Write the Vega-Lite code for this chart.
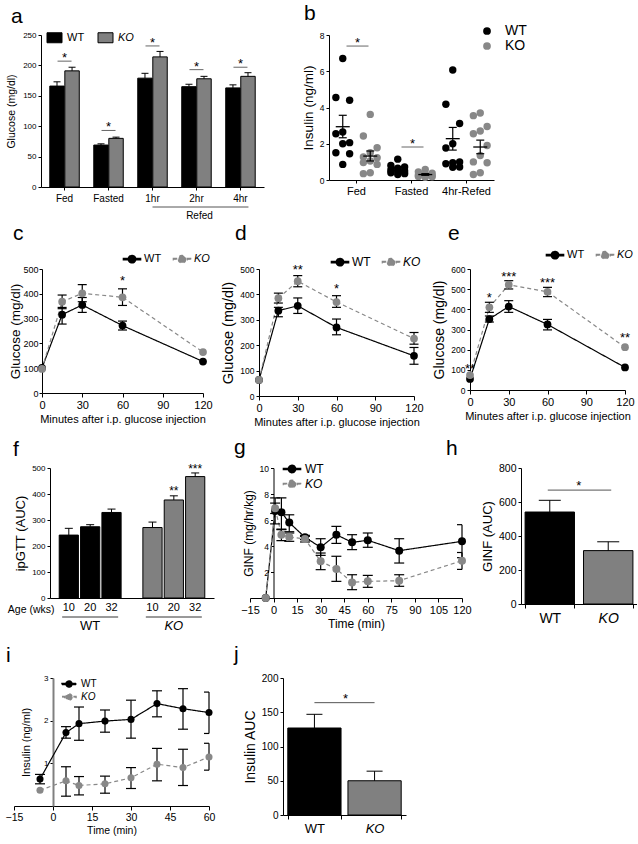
{
"$schema":"https://vega.github.io/schema/vega-lite/v6.json",
"padding":{"left":5,"top":3,"right":0,"bottom":0},
"config":{
 "font":"Liberation Sans",
 "view":{"stroke":null},
 "axis":{"grid":false,"domainColor":"black","tickColor":"black","labelColor":"black","titleColor":"black","titleFontWeight":"normal","tickSize":4,"labelFontSize":9,"titleFontSize":12,"titlePadding":4,"labelPadding":2,"labelFlush":false,"labelOverlap":false},
 "axisX":{"labelAngle":0},
 "title":{"fontSize":21,"fontWeight":"normal","anchor":"start","frame":"group","color":"black"},
 "legend":{"padding":0,"labelColor":"black"}
},
"bounds":"full",
"spacing":2,
"resolve":{"scale":{"color":"independent","xOffset":"independent","strokeDash":"independent"},"legend":{"color":"independent","strokeDash":"independent"}},
"vconcat":[
{"bounds":"flush","spacing":0,
 "resolve":{"scale":{"color":"independent","xOffset":"independent","strokeDash":"independent"},"legend":{"color":"independent","strokeDash":"independent"}},
 "hconcat":[
 {"width":27,"height":1,"data":{"values":[]},"mark":"point"},
 {"bounds":"flush","spacing":65,
  "resolve":{"scale":{"color":"independent","xOffset":"independent","strokeDash":"independent"},"legend":{"color":"independent","strokeDash":"independent"}},
  "hconcat":[
 {"width":223,"height":152,
  "title":{"text":"a","dx":-30,"offset":4},
  "layer":[
   {"data":{"values":[
     {"cond":"Fed","group":"WT","mean":166,"hi":173},{"cond":"Fed","group":"KO","mean":191,"hi":197},
     {"cond":"Fasted","group":"WT","mean":69,"hi":71},{"cond":"Fasted","group":"KO","mean":80,"hi":82},
     {"cond":"1hr","group":"WT","mean":179,"hi":187},{"cond":"1hr","group":"KO","mean":214,"hi":223},
     {"cond":"2hr","group":"WT","mean":165,"hi":169},{"cond":"2hr","group":"KO","mean":178,"hi":182},
     {"cond":"4hr","group":"WT","mean":163,"hi":168},{"cond":"4hr","group":"KO","mean":182,"hi":188}]},
    "layer":[
     {"mark":{"type":"bar","stroke":"black","strokeWidth":1},
      "encoding":{
       "x":{"field":"cond","type":"nominal","scale":{"type":"band","domain":["Fed","Fasted","1hr","2hr","4hr"],"paddingInner":0.33,"paddingOuter":0.2},"axis":{"title":null,"labelFontSize":10,"tickSize":3,"labelPadding":3,"labelOverlap":false}},
       "xOffset":{"field":"group","type":"nominal","scale":{"type":"band","domain":["WT","KO"],"paddingInner":0.04}},
       "y":{"field":"mean","type":"quantitative","scale":{"domain":[0,250],"nice":false},"axis":{"title":"Glucose (mg/dl)","values":[0,50,100,150,200,250],"format":"d","tickCount":20,"labelOverlap":false,"labelFontSize":8,"titleFontSize":10.5,"tickSize":3,"titlePadding":6}},
       "color":{"field":"group","type":"nominal","scale":{"domain":["WT","KO"],"range":["black","#808080"]},
        "legend":{"title":null,"orient":"none","legendX":8,"legendY":-3,"direction":"horizontal","columns":2,"symbolType":"M-1.5,-1H1.5V1H-1.5Z","symbolSize":100,"symbolStrokeColor":"black","symbolStrokeWidth":1,"labelFontSize":11,"labelOffset":7,"columnPadding":11,
         "encode":{"labels":{"update":{"fontStyle":{"signal":"datum.label === 'KO' ? 'italic' : 'normal'"}}}}}}}},
     {"mark":{"type":"rule","color":"black","strokeWidth":1},
      "encoding":{"x":{"field":"cond","type":"nominal"},"xOffset":{"field":"group","type":"nominal","scale":{"type":"band","domain":["WT","KO"],"paddingInner":0.04}},"y":{"field":"mean","type":"quantitative"},"y2":{"field":"hi"}}},
     {"mark":{"type":"tick","color":"black","thickness":1,"size":7,"orient":"horizontal","opacity":1},
      "encoding":{"x":{"field":"cond","type":"nominal"},"xOffset":{"field":"group","type":"nominal","scale":{"type":"band","domain":["WT","KO"],"paddingInner":0.04}},"y":{"field":"hi","type":"quantitative"}}}
    ]},
   {"data":{"values":[{"cond":"Fed","y":207,"s":"*"},{"cond":"Fasted","y":93,"s":"*"},{"cond":"1hr","y":232,"s":"*"},{"cond":"2hr","y":193,"s":"*"},{"cond":"4hr","y":197,"s":"*"}]},
    "layer":[
     {"mark":{"type":"rule","color":"#666666","strokeWidth":1,"xOffset":-7,"x2Offset":7},"encoding":{"x":{"field":"cond","type":"nominal"},"x2":{"field":"cond"},"y":{"field":"y","type":"quantitative"}}},
     {"mark":{"type":"text","fontSize":13,"baseline":"middle","dy":-3},"encoding":{"x":{"field":"cond","type":"nominal"},"y":{"field":"y","type":"quantitative"},"text":{"field":"s"}}}
    ]},
   {"data":{"values":[{"cond":"1hr","cond2":"4hr"}]},
    "mark":{"type":"rule","color":"#555555","strokeWidth":1,"yOffset":20,"x2Offset":8},
    "encoding":{"x":{"field":"cond","type":"nominal"},"x2":{"field":"cond2"},"y":{"datum":0}}},
   {"data":{"values":[{"cond":"2hr","s":"Refed"}]},
    "mark":{"type":"text","fontSize":10,"baseline":"top","dy":24,"dx":3},
    "encoding":{"x":{"field":"cond","type":"nominal"},"y":{"datum":0},"text":{"field":"s"}}}
  ]},
 {"width":165,"height":145,
  "title":{"text":"b","dx":-25,"offset":0},
  "layer":[
   {"data":{"values":[
     {"cond":"Fed","group":"WT","v":6.7},{"cond":"Fed","group":"WT","v":4.55},{"cond":"Fed","group":"WT","v":4.4},{"cond":"Fed","group":"WT","v":2.65},{"cond":"Fed","group":"WT","v":2.55},{"cond":"Fed","group":"WT","v":2.06},{"cond":"Fed","group":"WT","v":2.0},{"cond":"Fed","group":"WT","v":1.5},{"cond":"Fed","group":"WT","v":1.45},{"cond":"Fed","group":"WT","v":0.86},
     {"cond":"Fed","group":"KO","v":3.62},{"cond":"Fed","group":"KO","v":2.43},{"cond":"Fed","group":"KO","v":1.78},{"cond":"Fed","group":"KO","v":1.5},{"cond":"Fed","group":"KO","v":1.27},{"cond":"Fed","group":"KO","v":1.23},{"cond":"Fed","group":"KO","v":1.05},{"cond":"Fed","group":"KO","v":0.96},{"cond":"Fed","group":"KO","v":0.86},{"cond":"Fed","group":"KO","v":0.4},{"cond":"Fed","group":"KO","v":0.35},
     {"cond":"Fasted","group":"WT","v":1.15},{"cond":"Fasted","group":"WT","v":0.8},{"cond":"Fasted","group":"WT","v":0.72},{"cond":"Fasted","group":"WT","v":0.65},{"cond":"Fasted","group":"WT","v":0.55},{"cond":"Fasted","group":"WT","v":0.5},{"cond":"Fasted","group":"WT","v":0.45},{"cond":"Fasted","group":"WT","v":0.4},{"cond":"Fasted","group":"WT","v":0.35},{"cond":"Fasted","group":"WT","v":0.3},
     {"cond":"Fasted","group":"KO","v":0.58},{"cond":"Fasted","group":"KO","v":0.45},{"cond":"Fasted","group":"KO","v":0.38},{"cond":"Fasted","group":"KO","v":0.32},{"cond":"Fasted","group":"KO","v":0.28},{"cond":"Fasted","group":"KO","v":0.25},{"cond":"Fasted","group":"KO","v":0.22},{"cond":"Fasted","group":"KO","v":0.2},{"cond":"Fasted","group":"KO","v":0.18},{"cond":"Fasted","group":"KO","v":0.15},
     {"cond":"4hr-Refed","group":"WT","v":6.07},{"cond":"4hr-Refed","group":"WT","v":4.18},{"cond":"4hr-Refed","group":"WT","v":3.12},{"cond":"4hr-Refed","group":"WT","v":2.0},{"cond":"4hr-Refed","group":"WT","v":1.77},{"cond":"4hr-Refed","group":"WT","v":1.0},{"cond":"4hr-Refed","group":"WT","v":0.95},{"cond":"4hr-Refed","group":"WT","v":0.9},{"cond":"4hr-Refed","group":"WT","v":0.72},{"cond":"4hr-Refed","group":"WT","v":0.7},
     {"cond":"4hr-Refed","group":"KO","v":3.7},{"cond":"4hr-Refed","group":"KO","v":3.55},{"cond":"4hr-Refed","group":"KO","v":2.95},{"cond":"4hr-Refed","group":"KO","v":2.7},{"cond":"4hr-Refed","group":"KO","v":2.55},{"cond":"4hr-Refed","group":"KO","v":1.9},{"cond":"4hr-Refed","group":"KO","v":1.35},{"cond":"4hr-Refed","group":"KO","v":1.0},{"cond":"4hr-Refed","group":"KO","v":0.95},{"cond":"4hr-Refed","group":"KO","v":0.4},{"cond":"4hr-Refed","group":"KO","v":0.3}]},
    "transform":[{"window":[{"op":"row_number","as":"rn"}],"groupby":["cond","group"],"sort":[{"field":"v","order":"descending"}]},{"calculate":"datum.group + (datum.rn % 3)","as":"sub"}],
    "mark":{"type":"point","filled":true,"size":55,"opacity":1},
    "encoding":{
     "x":{"field":"cond","type":"nominal","scale":{"type":"band","domain":["Fed","Fasted","4hr-Refed"],"paddingInner":0,"paddingOuter":0},"axis":{"title":null,"labelFontSize":11,"tickSize":3,"labelPadding":2,"labelOverlap":false}},
     "xOffset":{"field":"sub","type":"nominal","scale":{"type":"point","domain":["WT2","WT1","WT0","_","KO2","KO1","KO0"],"padding":2.5}},
     "y":{"field":"v","type":"quantitative","scale":{"domain":[0,8],"nice":false},"axis":{"title":"Insulin (ng/ml)","values":[0,2,4,6,8],"format":"d","tickCount":20,"labelOverlap":false,"labelFontSize":8.5,"titleFontSize":13.5,"tickSize":3,"titlePadding":4}},
     "color":{"field":"group","type":"nominal","scale":{"domain":["WT","KO"],"range":["black","#888888"]},
      "legend":{"title":null,"orient":"none","legendX":151,"legendY":-11,"symbolType":"circle","symbolSize":60,"symbolStrokeWidth":0,"labelFontSize":14,"labelOffset":11,"rowPadding":1,
       "encode":{"labels":{"update":{"fontStyle":{"signal":"datum.label === 'KO' ? 'italic' : 'normal'"}}}}}}}},
   {"data":{"values":[
     {"cond":"Fed","group":"WT","m":2.94,"lo":2.33,"hi":3.57},{"cond":"Fed","group":"KO","m":1.32,"lo":1.05,"hi":1.6},
     {"cond":"Fasted","group":"WT","m":0.6,"lo":0.52,"hi":0.7},{"cond":"Fasted","group":"KO","m":0.3,"lo":0.26,"hi":0.35},
     {"cond":"4hr-Refed","group":"WT","m":2.28,"lo":1.65,"hi":2.9},{"cond":"4hr-Refed","group":"KO","m":1.82,"lo":1.45,"hi":2.2}]},
    "transform":[{"calculate":"datum.group + '1'","as":"sub"}],
    "layer":[
     {"mark":{"type":"tick","color":"black","thickness":1.3,"size":14,"orient":"horizontal","opacity":1},"encoding":{"x":{"field":"cond","type":"nominal"},"xOffset":{"field":"sub","type":"nominal","scale":{"type":"point","domain":["WT2","WT1","WT0","_","KO2","KO1","KO0"],"padding":2.5}},"y":{"field":"m","type":"quantitative"}}},
     {"mark":{"type":"rule","color":"black","strokeWidth":1.2},"encoding":{"x":{"field":"cond","type":"nominal"},"xOffset":{"field":"sub","type":"nominal","scale":{"type":"point","domain":["WT2","WT1","WT0","_","KO2","KO1","KO0"],"padding":2.5}},"y":{"field":"lo","type":"quantitative"},"y2":{"field":"hi"}}},
     {"mark":{"type":"tick","color":"black","thickness":1.2,"size":8,"orient":"horizontal","opacity":1},"encoding":{"x":{"field":"cond","type":"nominal"},"xOffset":{"field":"sub","type":"nominal","scale":{"type":"point","domain":["WT2","WT1","WT0","_","KO2","KO1","KO0"],"padding":2.5}},"y":{"field":"lo","type":"quantitative"}}},
     {"mark":{"type":"tick","color":"black","thickness":1.2,"size":8,"orient":"horizontal","opacity":1},"encoding":{"x":{"field":"cond","type":"nominal"},"xOffset":{"field":"sub","type":"nominal","scale":{"type":"point","domain":["WT2","WT1","WT0","_","KO2","KO1","KO0"],"padding":2.5}},"y":{"field":"hi","type":"quantitative"}}}
    ]},
   {"data":{"values":[{"cond":"Fed","y":7.39,"s":"*"},{"cond":"Fasted","y":1.82,"s":"*"}]},
    "layer":[
     {"mark":{"type":"rule","color":"#666666","strokeWidth":1,"xOffset":-10,"x2Offset":12},"encoding":{"x":{"field":"cond","type":"nominal"},"x2":{"field":"cond"},"y":{"field":"y","type":"quantitative"}}},
     {"mark":{"type":"text","fontSize":13,"baseline":"middle","dy":-3,"dx":1},"encoding":{"x":{"field":"cond","type":"nominal"},"y":{"field":"y","type":"quantitative"},"text":{"field":"s"}}}
    ]}
  ]}
 ]}
]},
{"bounds":"full","spacing":10,
 "resolve":{"scale":{"color":"independent","xOffset":"independent","strokeDash":"independent"},"legend":{"color":"independent","strokeDash":"independent"}},
 "vconcat":[
{"bounds":"flush","spacing":0,
 "resolve":{"scale":{"color":"independent","xOffset":"independent","strokeDash":"independent"},"legend":{"color":"independent","strokeDash":"independent"}},
 "hconcat":[
 {"width":28,"height":1,"data":{"values":[]},"mark":"point"},
 {"bounds":"flush","spacing":56,
  "resolve":{"scale":{"color":"independent","xOffset":"independent","strokeDash":"independent"},"legend":{"color":"independent","strokeDash":"independent"}},
  "hconcat":[
 {"width":161,"height":124,
  "title":{"text":"c","dx":-29,"offset":8},
  "data":{"values":[
   {"t":0,"g":"WT","m":101,"lo":null,"hi":null},{"t":15,"g":"WT","m":316,"lo":278,"hi":345},{"t":30,"g":"WT","m":355,"lo":325,"hi":385},{"t":60,"g":"WT","m":272,"lo":254,"hi":290},{"t":120,"g":"WT","m":127,"lo":null,"hi":null},
   {"t":0,"g":"KO","m":97,"lo":null,"hi":null},{"t":15,"g":"KO","m":368,"lo":340,"hi":395},{"t":30,"g":"KO","m":402,"lo":368,"hi":437},{"t":60,"g":"KO","m":386,"lo":353,"hi":420},{"t":120,"g":"KO","m":165,"lo":null,"hi":null}]},
  "encoding":{"x":{"field":"t","type":"quantitative","scale":{"domain":[0,120],"nice":false},"axis":{"values":[0,30,60,90,120],"format":"d","tickCount":20,"labelOverlap":false,"title":"Minutes after i.p. glucose injection","labelFontSize":11,"titleFontSize":11,"titlePadding":3}}},
  "layer":[
   {"mark":{"type":"line","strokeWidth":1.2},"encoding":{
     "y":{"field":"m","type":"quantitative","scale":{"domain":[0,500],"nice":false},"axis":{"values":[0,100,200,300,400,500],"format":"d","tickCount":20,"labelOverlap":false,"title":"Glucose (mg/dl)","labelFontSize":9,"titleFontSize":13.5,"tickSize":3,"titlePadding":0,"labelPadding":1}},
     "color":{"field":"g","type":"nominal","scale":{"domain":["WT","KO"],"range":["black","#888888"]},
      "legend":{"title":null,"orient":"none","legendX":83,"legendY":-17,"direction":"horizontal","columns":2,"symbolSize":150,"labelFontSize":11,"labelOffset":5,"columnPadding":8,
       "encode":{"symbols":{"update":{"shape":{"signal":"datum.value === 'KO' ? 'M-1.4,-0.1H-0.9V0.1H-1.4Z M0.9,-0.1H1.4V0.1H0.9Z M0.6,0A0.6,0.6,0,1,1,-0.6,0A0.6,0.6,0,1,1,0.6,0Z' : 'M-1.4,-0.1H1.4V0.1H-1.4Z M0.6,0A0.6,0.6,0,1,1,-0.6,0A0.6,0.6,0,1,1,0.6,0Z'"},"fill":{"signal":"datum.value === 'KO' ? '#888888' : 'black'"},"stroke":{"value":"transparent"}}},"labels":{"update":{"fontStyle":{"signal":"datum.label === 'KO' ? 'italic' : 'normal'"}}}}}},
     "strokeDash":{"field":"g","type":"nominal","scale":{"domain":["WT","KO"],"range":[[1,0],[4,3]]},"legend":null}}},
   {"mark":{"type":"rule","color":"black","strokeWidth":1.2},"encoding":{"y":{"field":"lo","type":"quantitative"},"y2":{"field":"hi"}}},
   {"mark":{"type":"tick","color":"black","thickness":1.2,"size":9,"orient":"horizontal","opacity":1},"encoding":{"y":{"field":"lo","type":"quantitative"}}},
   {"mark":{"type":"tick","color":"black","thickness":1.2,"size":9,"orient":"horizontal","opacity":1},"encoding":{"y":{"field":"hi","type":"quantitative"}}},
   {"mark":{"type":"point","filled":true,"size":60,"opacity":1},"encoding":{"y":{"field":"m","type":"quantitative"},"color":{"field":"g","type":"nominal"}}},
   {"data":{"values":[{"t":60,"y":462,"s":"*"}]},"mark":{"type":"text","fontSize":13,"baseline":"middle","dy":3},"encoding":{"y":{"field":"y","type":"quantitative"},"text":{"field":"s"}}}
  ]},
 {"width":155,"height":127,
  "title":{"text":"d","dx":-24,"offset":11},
  "data":{"values":[
   {"t":0,"g":"WT","m":63,"lo":null,"hi":null},{"t":15,"g":"WT","m":336,"lo":312,"hi":349},{"t":30,"g":"WT","m":355,"lo":325,"hi":386},{"t":60,"g":"WT","m":270,"lo":241,"hi":303},{"t":120,"g":"WT","m":158,"lo":125,"hi":191},
   {"t":0,"g":"KO","m":63,"lo":null,"hi":null},{"t":15,"g":"KO","m":385,"lo":366,"hi":405},{"t":30,"g":"KO","m":452,"lo":430,"hi":474},{"t":60,"g":"KO","m":370,"lo":349,"hi":395},{"t":120,"g":"KO","m":226,"lo":204,"hi":250}]},
  "encoding":{"x":{"field":"t","type":"quantitative","scale":{"domain":[0,120],"nice":false},"axis":{"values":[0,30,60,90,120],"format":"d","tickCount":20,"labelOverlap":false,"title":"Minutes after i.p. glucose injection","labelFontSize":11,"titleFontSize":11,"titlePadding":3}}},
  "layer":[
   {"mark":{"type":"line","strokeWidth":1.2},"encoding":{
     "y":{"field":"m","type":"quantitative","scale":{"domain":[0,500],"nice":false},"axis":{"values":[0,100,200,300,400,500],"format":"d","tickCount":20,"labelOverlap":false,"title":"Glucose (mg/dl)","labelFontSize":8.5,"titleFontSize":14.5,"tickSize":3}},
     "color":{"field":"g","type":"nominal","scale":{"domain":["WT","KO"],"range":["black","#888888"]},
      "legend":{"title":null,"orient":"none","legendX":74,"legendY":-14,"direction":"horizontal","columns":2,"symbolSize":150,"labelFontSize":12,"labelOffset":5,"columnPadding":8,
       "encode":{"symbols":{"update":{"shape":{"signal":"datum.value === 'KO' ? 'M-1.4,-0.1H-0.9V0.1H-1.4Z M0.9,-0.1H1.4V0.1H0.9Z M0.6,0A0.6,0.6,0,1,1,-0.6,0A0.6,0.6,0,1,1,0.6,0Z' : 'M-1.4,-0.1H1.4V0.1H-1.4Z M0.6,0A0.6,0.6,0,1,1,-0.6,0A0.6,0.6,0,1,1,0.6,0Z'"},"fill":{"signal":"datum.value === 'KO' ? '#888888' : 'black'"},"stroke":{"value":"transparent"}}},"labels":{"update":{"fontStyle":{"signal":"datum.label === 'KO' ? 'italic' : 'normal'"}}}}}},
     "strokeDash":{"field":"g","type":"nominal","scale":{"domain":["WT","KO"],"range":[[1,0],[4,3]]},"legend":null}}},
   {"mark":{"type":"rule","color":"black","strokeWidth":1.2},"encoding":{"y":{"field":"lo","type":"quantitative"},"y2":{"field":"hi"}}},
   {"mark":{"type":"tick","color":"black","thickness":1.2,"size":9,"orient":"horizontal","opacity":1},"encoding":{"y":{"field":"lo","type":"quantitative"}}},
   {"mark":{"type":"tick","color":"black","thickness":1.2,"size":9,"orient":"horizontal","opacity":1},"encoding":{"y":{"field":"hi","type":"quantitative"}}},
   {"mark":{"type":"point","filled":true,"size":60,"opacity":1},"encoding":{"y":{"field":"m","type":"quantitative"},"color":{"field":"g","type":"nominal"}}},
   {"data":{"values":[{"t":30,"y":508,"s":"**"},{"t":60,"y":433,"s":"*"}]},"mark":{"type":"text","fontSize":13,"baseline":"middle","dy":3},"encoding":{"y":{"field":"y","type":"quantitative"},"text":{"field":"s"}}}
  ]},
 {"width":155,"height":121,
  "title":{"text":"e","dx":-22,"offset":4},
  "data":{"values":[
   {"t":0,"g":"WT","m":55,"lo":null,"hi":null},{"t":15,"g":"WT","m":352,"lo":337,"hi":367},{"t":30,"g":"WT","m":414,"lo":385,"hi":443},{"t":60,"g":"WT","m":325,"lo":298,"hi":350},{"t":120,"g":"WT","m":112,"lo":null,"hi":null},
   {"t":0,"g":"KO","m":74,"lo":null,"hi":null},{"t":15,"g":"KO","m":410,"lo":385,"hi":435},{"t":30,"g":"KO","m":522,"lo":501,"hi":542},{"t":60,"g":"KO","m":487,"lo":463,"hi":509},{"t":120,"g":"KO","m":212,"lo":null,"hi":null}]},
  "encoding":{"x":{"field":"t","type":"quantitative","scale":{"domain":[0,120],"nice":false},"axis":{"values":[0,30,60,90,120],"format":"d","tickCount":20,"labelOverlap":false,"title":"Minutes after i.p. glucose injection","labelFontSize":11,"titleFontSize":11,"titlePadding":3}}},
  "layer":[
   {"mark":{"type":"line","strokeWidth":1.2},"encoding":{
     "y":{"field":"m","type":"quantitative","scale":{"domain":[0,600],"nice":false},"axis":{"values":[0,100,200,300,400,500,600],"format":"d","tickCount":20,"labelOverlap":false,"title":"Glucose (mg/dl)","labelFontSize":8.5,"titleFontSize":14,"tickSize":3}},
     "color":{"field":"g","type":"nominal","scale":{"domain":["WT","KO"],"range":["black","#888888"]},
      "legend":{"title":null,"orient":"none","legendX":78,"legendY":-21,"direction":"horizontal","columns":2,"symbolSize":150,"labelFontSize":11,"labelOffset":5,"columnPadding":8,
       "encode":{"symbols":{"update":{"shape":{"signal":"datum.value === 'KO' ? 'M-1.4,-0.1H-0.9V0.1H-1.4Z M0.9,-0.1H1.4V0.1H0.9Z M0.6,0A0.6,0.6,0,1,1,-0.6,0A0.6,0.6,0,1,1,0.6,0Z' : 'M-1.4,-0.1H1.4V0.1H-1.4Z M0.6,0A0.6,0.6,0,1,1,-0.6,0A0.6,0.6,0,1,1,0.6,0Z'"},"fill":{"signal":"datum.value === 'KO' ? '#888888' : 'black'"},"stroke":{"value":"transparent"}}},"labels":{"update":{"fontStyle":{"signal":"datum.label === 'KO' ? 'italic' : 'normal'"}}}}}},
     "strokeDash":{"field":"g","type":"nominal","scale":{"domain":["WT","KO"],"range":[[1,0],[4,3]]},"legend":null}}},
   {"mark":{"type":"rule","color":"black","strokeWidth":1.2},"encoding":{"y":{"field":"lo","type":"quantitative"},"y2":{"field":"hi"}}},
   {"mark":{"type":"tick","color":"black","thickness":1.2,"size":9,"orient":"horizontal","opacity":1},"encoding":{"y":{"field":"lo","type":"quantitative"}}},
   {"mark":{"type":"tick","color":"black","thickness":1.2,"size":9,"orient":"horizontal","opacity":1},"encoding":{"y":{"field":"hi","type":"quantitative"}}},
   {"mark":{"type":"point","filled":true,"size":60,"opacity":1},"encoding":{"y":{"field":"m","type":"quantitative"},"color":{"field":"g","type":"nominal"}}},
   {"data":{"values":[{"t":0,"y":121,"s":"**"},{"t":15,"y":470,"s":"*"},{"t":30,"y":576,"s":"***"},{"t":60,"y":545,"s":"***"},{"t":120,"y":275,"s":"**"}]},"mark":{"type":"text","fontSize":13,"baseline":"middle","dy":3},"encoding":{"y":{"field":"y","type":"quantitative"},"text":{"field":"s"}}}
  ]}
 ]}
]},
{"bounds":"full","spacing":12,
 "resolve":{"scale":{"color":"independent","xOffset":"independent","strokeDash":"independent"},"legend":{"color":"independent","strokeDash":"independent"}},
 "vconcat":[
{"bounds":"flush","spacing":0,
 "resolve":{"scale":{"color":"independent","xOffset":"independent","strokeDash":"independent"},"legend":{"color":"independent","strokeDash":"independent"}},
 "hconcat":[
 {"width":36,"height":1,"data":{"values":[]},"mark":"point"},
 {"bounds":"flush","spacing":36,
  "resolve":{"scale":{"color":"independent","xOffset":"independent","strokeDash":"independent"},"legend":{"color":"independent","strokeDash":"independent"}},
  "hconcat":[
 {"width":164,"height":130,
  "title":{"text":"f","dx":-37,"offset":3},
  "layer":[
   {"data":{"values":[
     {"g":"WT","age":"10","m":242,"hi":268},{"g":"WT","age":"20","m":274,"hi":282},{"g":"WT","age":"32","m":329,"hi":342},
     {"g":"KO","age":"10","m":271,"hi":292},{"g":"KO","age":"20","m":377,"hi":393},{"g":"KO","age":"32","m":467,"hi":481}]},
    "layer":[
     {"mark":{"type":"bar","stroke":"black","strokeWidth":1},"encoding":{
       "x":{"field":"g","type":"nominal","scale":{"type":"band","domain":["WT","KO"],"paddingInner":0.26,"paddingOuter":0.11},"axis":{"title":"Age (wks)","titleX":4,"titleY":14,"titleAlign":"right","titleBaseline":"alphabetic","titleFontSize":10.5,"ticks":false,"labelPadding":21,"labelFontSize":13,"labelOverlap":false,"labelFontStyle":{"condition":{"test":"datum.value === 'KO'","value":"italic"},"value":"normal"}}},
       "xOffset":{"field":"age","type":"nominal","scale":{"type":"band","domain":["10","20","32"],"paddingInner":0.1}},
       "y":{"field":"m","type":"quantitative","scale":{"domain":[0,500],"nice":false},"axis":{"title":"ipGTT (AUC)","values":[0,100,200,300,400,500],"format":"d","tickCount":20,"labelOverlap":false,"labelFontSize":8,"titleFontSize":13,"tickSize":3}},
       "color":{"field":"g","type":"nominal","scale":{"domain":["WT","KO"],"range":["black","#808080"]},"legend":null}}},
     {"mark":{"type":"rule","color":"black","strokeWidth":1},"encoding":{"x":{"field":"g","type":"nominal"},"xOffset":{"field":"age","type":"nominal","scale":{"type":"band","domain":["10","20","32"],"paddingInner":0.1}},"y":{"field":"m","type":"quantitative"},"y2":{"field":"hi"}}},
     {"mark":{"type":"tick","color":"black","thickness":1,"size":8,"orient":"horizontal","opacity":1},"encoding":{"x":{"field":"g","type":"nominal"},"xOffset":{"field":"age","type":"nominal","scale":{"type":"band","domain":["10","20","32"],"paddingInner":0.1}},"y":{"field":"hi","type":"quantitative"}}},
     {"mark":{"type":"text","fontSize":11,"baseline":"top","dy":4},"encoding":{"x":{"field":"g","type":"nominal"},"xOffset":{"field":"age","type":"nominal","scale":{"type":"band","domain":["10","20","32"],"paddingInner":0.1}},"y":{"datum":0},"text":{"field":"age"}}}
    ]},
   {"data":{"values":[{"g":"WT"},{"g":"KO"}]},"mark":{"type":"rule","color":"black","strokeWidth":0.8,"xOffset":-28,"x2Offset":28,"yOffset":19},"encoding":{"x":{"field":"g","type":"nominal"},"x2":{"field":"g"},"y":{"datum":0}}},
   {"data":{"values":[{"g":"KO","age":"20","y":422,"s":"**"},{"g":"KO","age":"32","y":509,"s":"***"}]},"mark":{"type":"text","fontSize":12,"baseline":"middle","dy":3},"encoding":{"x":{"field":"g","type":"nominal"},"xOffset":{"field":"age","type":"nominal","scale":{"type":"band","domain":["10","20","32"],"paddingInner":0.1}},"y":{"field":"y","type":"quantitative"},"text":{"field":"s"}}}
  ]},
 {"bounds":"flush","spacing":59,
  "resolve":{"scale":{"color":"independent","xOffset":"independent","strokeDash":"independent"},"legend":{"color":"independent","strokeDash":"independent"}},
  "hconcat":[
  {"width":212,"height":130,
   "title":{"text":"g","dx":-16,"offset":4},
   "data":{"values":[
    {"t":-5,"g":"WT","m":0,"lo":null,"hi":null},{"t":1,"g":"WT","m":6.7,"lo":5.7,"hi":7.7},{"t":5,"g":"WT","m":6.6,"lo":5.3,"hi":7.7},{"t":10,"g":"WT","m":5.8,"lo":5.1,"hi":6.4},{"t":20,"g":"WT","m":4.67,"lo":4.49,"hi":4.82},{"t":30,"g":"WT","m":3.9,"lo":3.28,"hi":4.56},{"t":40,"g":"WT","m":4.87,"lo":4.2,"hi":5.51},{"t":50,"g":"WT","m":4.28,"lo":3.72,"hi":4.87},{"t":60,"g":"WT","m":4.44,"lo":3.9,"hi":5.0},{"t":80,"g":"WT","m":3.64,"lo":2.69,"hi":4.56},{"t":120,"g":"WT","m":4.36,"lo":3.1,"hi":5.64},
    {"t":-5,"g":"KO","m":0,"lo":null,"hi":null},{"t":1,"g":"KO","m":6.9,"lo":6.5,"hi":7.3},{"t":5,"g":"KO","m":4.87,"lo":4.41,"hi":5.26},{"t":10,"g":"KO","m":4.69,"lo":4.36,"hi":5.0},{"t":20,"g":"KO","m":4.54,"lo":4.31,"hi":4.74},{"t":30,"g":"KO","m":2.82,"lo":2.18,"hi":3.46},{"t":40,"g":"KO","m":2.23,"lo":1.28,"hi":3.21},{"t":50,"g":"KO","m":1.2,"lo":0.64,"hi":1.79},{"t":60,"g":"KO","m":1.28,"lo":0.82,"hi":1.74},{"t":80,"g":"KO","m":1.33,"lo":0.9,"hi":1.79},{"t":120,"g":"KO","m":2.87,"lo":2.2,"hi":3.5}]},
   "encoding":{"x":{"field":"t","type":"quantitative","scale":{"domain":[-15,120],"nice":false},"axis":{"values":[-15,0,15,30,45,60,75,90,105,120],"format":"d","tickCount":20,"labelOverlap":false,"title":"Time (min)","labelFontSize":11,"titleFontSize":12,"titlePadding":3}}},
   "layer":[
    {"mark":{"type":"line","strokeWidth":1.2},"encoding":{
      "y":{"field":"m","type":"quantitative","scale":{"domain":[0,10],"nice":false},"axis":{"values":[0,2,4,6,8,10],"format":"d","tickCount":20,"labelOverlap":false,"offset":-23.5,"labelExpr":"datum.value === 0 ? '' : datum.label","title":"GINF (mg/hr/kg)","labelFontSize":8.5,"titleFontSize":12,"tickSize":3}},
      "color":{"field":"g","type":"nominal","scale":{"domain":["WT","KO"],"range":["black","#888888"]},
       "legend":{"title":null,"orient":"none","legendX":35,"legendY":-6,"direction":"vertical","symbolSize":150,"labelFontSize":12,"labelOffset":6,"rowPadding":1,
        "encode":{"symbols":{"update":{"shape":{"signal":"datum.value === 'KO' ? 'M-1.4,-0.1H-0.9V0.1H-1.4Z M0.9,-0.1H1.4V0.1H0.9Z M0.6,0A0.6,0.6,0,1,1,-0.6,0A0.6,0.6,0,1,1,0.6,0Z' : 'M-1.4,-0.1H1.4V0.1H-1.4Z M0.6,0A0.6,0.6,0,1,1,-0.6,0A0.6,0.6,0,1,1,0.6,0Z'"},"fill":{"signal":"datum.value === 'KO' ? '#888888' : 'black'"},"stroke":{"value":"transparent"}}},"labels":{"update":{"fontStyle":{"signal":"datum.label === 'KO' ? 'italic' : 'normal'"}}}}}},
      "strokeDash":{"field":"g","type":"nominal","scale":{"domain":["WT","KO"],"range":[[1,0],[4,3]]},"legend":null}}},
    {"mark":{"type":"rule","color":"black","strokeWidth":1.2},"encoding":{"y":{"field":"lo","type":"quantitative"},"y2":{"field":"hi"}}},
    {"mark":{"type":"tick","color":"black","thickness":1.2,"size":10,"orient":"horizontal","opacity":1,"clip":true},"encoding":{"y":{"field":"lo","type":"quantitative"}}},
    {"mark":{"type":"tick","color":"black","thickness":1.2,"size":10,"orient":"horizontal","opacity":1,"clip":true},"encoding":{"y":{"field":"hi","type":"quantitative"}}},
    {"mark":{"type":"point","filled":true,"size":64,"opacity":1},"encoding":{"y":{"field":"m","type":"quantitative"},"color":{"field":"g","type":"nominal"}}}
   ]},
  {"width":116,"height":136,
   "title":{"text":"h","dx":-75,"offset":4},
   "layer":[
    {"data":{"values":[{"g":"WT","m":541,"hi":610},{"g":"KO","m":314,"hi":366}]},
     "layer":[
      {"mark":{"type":"bar","stroke":"black","strokeWidth":1},"encoding":{
        "x":{"field":"g","type":"nominal","scale":{"type":"band","domain":["WT","KO"],"paddingInner":0.155,"paddingOuter":0.07},"axis":{"title":null,"labelFontSize":14,"tickBand":"extent","tickSize":4,"labelPadding":3,"labelOverlap":false,"labelFontStyle":{"condition":{"test":"datum.value === 'KO'","value":"italic"},"value":"normal"}}},
        "y":{"field":"m","type":"quantitative","scale":{"domain":[0,800],"nice":false},"axis":{"title":"GINF (AUC)","values":[0,200,400,600,800],"format":"d","tickCount":20,"labelOverlap":false,"labelFontSize":10.5,"titleFontSize":13,"tickSize":3}},
        "color":{"field":"g","type":"nominal","scale":{"domain":["WT","KO"],"range":["black","#808080"]},"legend":null}}},
      {"mark":{"type":"rule","color":"black","strokeWidth":1},"encoding":{"x":{"field":"g","type":"nominal"},"y":{"field":"m","type":"quantitative"},"y2":{"field":"hi"}}},
      {"mark":{"type":"tick","color":"black","thickness":1,"size":22,"orient":"horizontal","opacity":1},"encoding":{"x":{"field":"g","type":"nominal"},"y":{"field":"hi","type":"quantitative"}}}
     ]},
    {"data":{"values":[{"g":"WT","g2":"KO","y":670,"s":"*"}]},
     "layer":[
      {"mark":{"type":"rule","color":"#555555","strokeWidth":1,"xOffset":-2,"x2Offset":3},"encoding":{"x":{"field":"g","type":"nominal"},"x2":{"field":"g2"},"y":{"field":"y","type":"quantitative"}}},
      {"mark":{"type":"text","fontSize":13,"baseline":"middle","dy":-4,"dx":29},"encoding":{"x":{"field":"g","type":"nominal"},"y":{"field":"y","type":"quantitative"},"text":{"field":"s"}}}
     ]}
   ]}
 ]}
 ]}
]},
{"bounds":"flush","spacing":74,
 "resolve":{"scale":{"color":"independent","xOffset":"independent","strokeDash":"independent"},"legend":{"color":"independent","strokeDash":"independent"}},
 "hconcat":[
 {"width":195,"height":128,
  "title":{"text":"i","dx":-8,"offset":8},
  "data":{"values":[
   {"t":-5,"g":"WT","m":0.63,"lo":0.52,"hi":0.74},{"t":5,"g":"WT","m":1.72,"lo":1.59,"hi":1.86},{"t":10,"g":"WT","m":1.93,"lo":1.54,"hi":2.32},{"t":20,"g":"WT","m":1.99,"lo":1.73,"hi":2.25},{"t":30,"g":"WT","m":2.03,"lo":1.59,"hi":2.48},{"t":40,"g":"WT","m":2.4,"lo":2.09,"hi":2.7},{"t":50,"g":"WT","m":2.28,"lo":1.8,"hi":2.75},{"t":60,"g":"WT","m":2.19,"lo":1.7,"hi":2.67},
   {"t":-5,"g":"KO","m":0.37,"lo":null,"hi":null},{"t":5,"g":"KO","m":0.59,"lo":0.23,"hi":0.92},{"t":10,"g":"KO","m":0.48,"lo":0.26,"hi":0.69},{"t":20,"g":"KO","m":0.52,"lo":0.3,"hi":0.7},{"t":30,"g":"KO","m":0.66,"lo":0.41,"hi":0.9},{"t":40,"g":"KO","m":0.98,"lo":0.59,"hi":1.35},{"t":50,"g":"KO","m":0.9,"lo":0.48,"hi":1.33},{"t":60,"g":"KO","m":1.15,"lo":0.84,"hi":1.47}]},
  "encoding":{"x":{"field":"t","type":"quantitative","scale":{"domain":[-15,60],"nice":false},"axis":{"values":[-15,0,15,30,45,60],"format":"d","tickCount":20,"labelOverlap":false,"title":"Time (min)","labelFontSize":10.5,"titleFontSize":10.5,"titlePadding":3}}},
  "layer":[
   {"mark":{"type":"line","strokeWidth":1.2},"encoding":{
     "y":{"field":"m","type":"quantitative","scale":{"domain":[0,3],"nice":false},"axis":{"values":[0,1,2,3],"format":"d","tickCount":20,"labelOverlap":false,"offset":-39,"labelExpr":"datum.value === 0 ? '' : datum.label","title":"Insulin (ng/ml)","labelFontSize":8,"titleFontSize":11,"tickSize":3,"titlePadding":12,"domainColor":"#808080","domainWidth":2}},
     "color":{"field":"g","type":"nominal","scale":{"domain":["WT","KO"],"range":["black","#888888"]},
      "legend":{"title":null,"orient":"none","legendX":49,"legendY":0,"direction":"vertical","symbolSize":100,"labelFontSize":10,"labelOffset":6,"rowPadding":1,
       "encode":{"symbols":{"update":{"shape":{"signal":"datum.value === 'KO' ? 'M-1.4,-0.1H-0.9V0.1H-1.4Z M0.9,-0.1H1.4V0.1H0.9Z M0.6,0A0.6,0.6,0,1,1,-0.6,0A0.6,0.6,0,1,1,0.6,0Z' : 'M-1.4,-0.1H1.4V0.1H-1.4Z M0.6,0A0.6,0.6,0,1,1,-0.6,0A0.6,0.6,0,1,1,0.6,0Z'"},"fill":{"signal":"datum.value === 'KO' ? '#888888' : 'black'"},"stroke":{"value":"transparent"}}},"labels":{"update":{"fontStyle":{"signal":"datum.label === 'KO' ? 'italic' : 'normal'"}}}}}},
     "strokeDash":{"field":"g","type":"nominal","scale":{"domain":["WT","KO"],"range":[[1,0],[4,3]]},"legend":null}}},
   {"mark":{"type":"rule","color":"black","strokeWidth":1.2},"encoding":{"y":{"field":"lo","type":"quantitative"},"y2":{"field":"hi"}}},
   {"mark":{"type":"tick","color":"black","thickness":1.2,"size":10,"orient":"horizontal","opacity":1,"clip":true},"encoding":{"y":{"field":"lo","type":"quantitative"}}},
   {"mark":{"type":"tick","color":"black","thickness":1.2,"size":10,"orient":"horizontal","opacity":1,"clip":true},"encoding":{"y":{"field":"hi","type":"quantitative"}}},
   {"mark":{"type":"point","filled":true,"size":50,"opacity":1},"encoding":{"y":{"field":"m","type":"quantitative"},"color":{"field":"g","type":"nominal"}}}
  ]},
 {"width":123,"height":137,
  "title":{"text":"j","dx":-49,"offset":8},
  "layer":[
   {"data":{"values":[{"g":"WT","m":127,"hi":147},{"g":"KO","m":50,"hi":64}]},
    "layer":[
     {"mark":{"type":"bar","stroke":"black","strokeWidth":1},"encoding":{
       "x":{"field":"g","type":"nominal","scale":{"type":"band","domain":["WT","KO"],"paddingInner":0.115,"paddingOuter":0.08},"axis":{"title":null,"labelFontSize":13,"tickBand":"extent","tickSize":4,"labelPadding":3,"labelOverlap":false,"labelFontStyle":{"condition":{"test":"datum.value === 'KO'","value":"italic"},"value":"normal"}}},
       "y":{"field":"m","type":"quantitative","scale":{"domain":[0,200],"nice":false},"axis":{"title":"Insulin AUC","values":[0,50,100,150,200],"format":"d","tickCount":20,"labelOverlap":false,"labelFontSize":10,"titleFontSize":14,"tickSize":3}},
       "color":{"field":"g","type":"nominal","scale":{"domain":["WT","KO"],"range":["black","#808080"]},"legend":null}}},
     {"mark":{"type":"rule","color":"black","strokeWidth":1},"encoding":{"x":{"field":"g","type":"nominal"},"y":{"field":"m","type":"quantitative"},"y2":{"field":"hi"}}},
     {"mark":{"type":"tick","color":"black","thickness":1,"size":16,"orient":"horizontal","opacity":1},"encoding":{"x":{"field":"g","type":"nominal"},"y":{"field":"hi","type":"quantitative"}}}
    ]},
   {"data":{"values":[{"g":"WT","g2":"KO","y":164,"s":"*"}]},
    "layer":[
     {"mark":{"type":"rule","color":"#555555","strokeWidth":1},"encoding":{"x":{"field":"g","type":"nominal"},"x2":{"field":"g2"},"y":{"field":"y","type":"quantitative"}}},
     {"mark":{"type":"text","fontSize":13,"baseline":"middle","dy":-4,"dx":31},"encoding":{"x":{"field":"g","type":"nominal"},"y":{"field":"y","type":"quantitative"},"text":{"field":"s"}}}
    ]}
  ]}
]}
 ]}
 ]}
]
}
